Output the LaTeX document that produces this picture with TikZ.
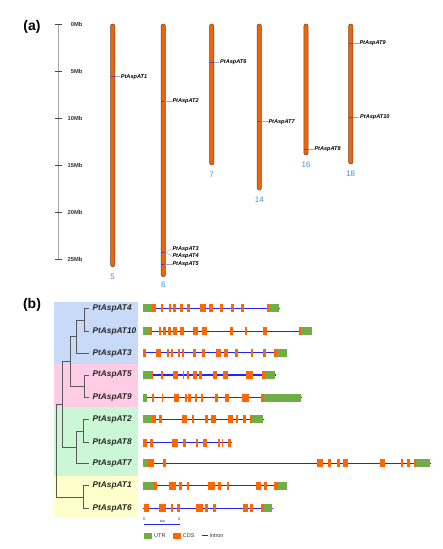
\documentclass[tikz,border=0pt]{standalone}
\usepackage{fontspec}
\setmainfont{Liberation Sans}
\definecolor{chrorange}{RGB}{238,100,8}
\definecolor{chredge}{RGB}{110,70,50}
\definecolor{cdsorange}{RGB}{255,102,0}
\definecolor{utrgreen}{RGB}{112,173,71}
\definecolor{intronblue}{RGB}{35,35,255}
\definecolor{numblue}{RGB}{70,140,230}
\definecolor{bgblue}{RGB}{201,218,248}
\definecolor{bgpink}{RGB}{255,204,229}
\definecolor{bggreen}{RGB}{204,247,214}
\definecolor{bgyellow}{RGB}{255,255,204}
\definecolor{tickpurple}{RGB}{110,60,160}
\newcommand\generow[4]{%
  \draw[intron] (#2,#1) -- (#3,#1);
  \foreach \t/\a/\b in {#4} { \fill[\t] (\a,#1-4) rectangle (\b,#1+4); }
}
\begin{document}
\begin{tikzpicture}[x=1bp,y=-1bp,
  chromo/.style={fill=chrorange,draw=chredge,line width=0.5bp,rounded corners=2bp},
  chrnum/.style={text=numblue,font=\fontsize{8}{9}\selectfont,inner sep=0pt},
  glab/.style={font=\fontsize{5.6}{6}\selectfont\bfseries\itshape,anchor=west,inner sep=0pt},
  lead/.style={draw=gray!70,line width=0.4bp},
  mtick/.style={draw=tickpurple,line width=0.6bp},
  mblab/.style={font=\fontsize{5.8}{6}\selectfont\bfseries,anchor=east,inner sep=0pt,text=black!80},
  panel/.style={font=\fontsize{14}{16}\selectfont\bfseries,inner sep=0pt},
  tlab/.style={font=\fontsize{8.3}{9}\selectfont\bfseries\itshape,anchor=west,inner sep=0pt,text=black!85},
  branch/.style={draw=black!65,line width=0.7bp},
  intron/.style={draw=intronblue,line width=1.3bp},
  u/.style={fill=utrgreen},
  c/.style={fill=cdsorange},
  leg/.style={font=\fontsize{5.5}{6}\selectfont,anchor=west,inner sep=0pt,text=black!80}]
\useasboundingbox (0,0) rectangle (443,549);
\fill[white] (0,0) rectangle (443,549);
% ---------- panel (a)
\node[panel] (pa) at (32,27) {(a)};
\draw[gray!70,line width=0.6bp] (58.3,24) -- (58.3,259.3);
\foreach \v/\yy in {0/24,5/71,10/118.3,15/165,20/212.3,25/259.3}{
  \draw[black!70,line width=0.6bp] (55,\yy) -- (61.7,\yy);
  \node[mblab] (mb\v) at (82.7,\yy) {\v Mb};
}
% chromosomes
\foreach \n/\x/\b/\ly in {5/112.7/266.7/276.7, 6/163.3/276.7/285, 7/211.7/165/174.3, 14/259.3/190/199.3, 16/306/155/165, 18/350.7/164/173.3}{
  \draw[chromo] (\x-2.1,24) rectangle (\x+2.1,\b);
  \node[chrnum] (cn\n) at (\x,\ly) {\n};
}
% gene markers
\foreach \g/\x/\ty/\lx/\ly in {1/112.7/76.7/120.7/76.7, 2/163.3/101/172.3/101, 6/211.7/62.3/220/62.3, 7/259.3/121.7/268.3/121.7, 8/306/149.5/314.3/149.5, 9/350.7/43.3/359.3/43.3, 10/350.7/117.3/360/117.3, 3/163.3/252.3/172.3/249, 4/163.3/252.3/172.3/256, 5/163.3/264.3/172.3/264.3}{
  \coordinate (m\g) at (\x+2.1,\ty);
  \draw[mtick] (\x-2.1,\ty) -- (m\g);
  \node[glab] (gl\g) at (\lx,\ly) {PtAspAT\g};
  \draw[lead] (m\g) -- ([xshift=-0.8bp]gl\g.west);
}
% ---------- panel (b)
\node[panel] (pb) at (32,305) {(b)};
\fill[bgblue] (54,301.7) rectangle (137.7,364);
\fill[bgpink] (54,364) rectangle (137.7,407.3);
\fill[bggreen] (54,407.3) rectangle (137.7,475.7);
\fill[bgyellow] (54,475.7) rectangle (137.7,517.3);
% tips
\foreach \g/\yy in {4/308.5,10/331.3,3/353,5/375,9/397.6,2/419.4,8/442.3,7/463.4,1/485.7,6/508.2}{
  \coordinate (t\g) at (89,\yy);
  \node[tlab] (tl\g) at (92.5,\yy) {PtAspAT\g};
}
\coordinate (n410) at (84,319.9);
\coordinate (n4103) at (76.7,336.4);
\coordinate (n59) at (84,386.3);
\coordinate (nbp) at (70,361.4);
\coordinate (n28) at (83.3,430.9);
\coordinate (n287) at (76.7,447.1);
\coordinate (nbpg) at (62.7,404.2);
\coordinate (n16) at (83.3,497);
\coordinate (root) at (56,450.6);
\foreach \p/\ch in {n410/t4,n410/t10,n4103/n410,n4103/t3,n59/t5,n59/t9,nbp/n4103,nbp/n59,n28/t2,n28/t8,n287/n28,n287/t7,nbpg/nbp,nbpg/n287,n16/t1,n16/t6,root/nbpg,root/n16}{
  \draw[branch] (\p) |- (\ch);
}
% gene structures
\begin{scope}[xshift=140bp,x=0.3333bp]
\generow{308.4}{10}{420}{u/10/35,c/35/48,c/63/68,c/87/92,c/100/107,c/120/130,c/140/150,c/180/197,c/207/220,c/240/250,c/272/282,c/302/312,c/380/388,u/388/417}
\generow{331.4}{10}{517}{u/10/30,c/30/37,c/57/62,c/70/77,c/85/92,c/100/110,c/120/132,c/160/175,c/187/200,c/270/280,c/315/322,c/370/380,c/477/483,u/483/515}
\generow{352.8}{10}{442}{c/10/17,c/47/62,c/82/87,c/92/100,c/113/120,c/127/133,c/160/168,c/185/195,c/228/242,c/252/263,c/285/293,c/332/340,c/370/378,c/402/410,u/410/440}
\generow{375}{10}{408}{u/10/35,c/35/40,c/62/68,c/98/115,c/128/132,c/140/147,c/160/170,c/178/185,c/218/230,c/250/263,c/318/340,c/365/375,u/375/405}
\generow{397.7}{10}{485}{u/10/20,c/35/42,c/65/70,c/102/118,c/135/140,c/145/152,c/165/172,c/182/190,c/225/235,c/255/268,c/305/328,c/362/372,u/372/482}
\generow{419.4}{10}{372}{u/10/35,c/35/48,c/58/65,c/125/142,c/155/163,c/195/203,c/213/228,c/263/278,c/287/295,c/308/317,c/330/335,u/335/370}
\generow{442.5}{10}{275}{c/10/20,c/30/38,c/95/115,c/128/137,c/167/173,c/188/200,c/235/240,c/245/250,c/265/272}
\generow{463.4}{10}{872}{u/10/25,c/25/42,c/70/77,c/532/550,c/563/572,c/590/600,c/610/625,c/720/735,c/782/790,c/802/810,c/823/828,u/828/870}
\generow{485.7}{10}{442}{u/10/40,c/40/52,c/88/107,c/118/127,c/140/148,c/203/225,c/233/243,c/260/267,c/348/363,c/372/380,c/402/413,u/413/440}
\generow{508.3}{10}{398}{c/12/27,c/58/78,c/92/100,c/112/120,c/168/188,c/195/205,c/220/227,c/310/325,c/330/340,c/362/372,u/372/395}
\end{scope}
% scale bar
\coordinate (sb1) at (145,524.3);
\coordinate (sb2) at (179.3,524.3);
\draw[intronblue,line width=0.5bp] (sb1) -- (sb2);
\fill[intronblue] ([xshift=-0.8bp,yshift=-0.8bp]sb1) rectangle ([xshift=0.8bp,yshift=0.8bp]sb1);
\fill[intronblue] ([xshift=-0.8bp,yshift=-0.8bp]sb2) rectangle ([xshift=0.8bp,yshift=0.8bp]sb2);
\node[font=\fontsize{3.5}{4}\selectfont,inner sep=0pt] (p5) at (144.6,519.3) {5'};
\node[font=\fontsize{3.5}{4}\selectfont,inner sep=0pt] (p3) at (179.3,519.3) {3'};
\node[font=\fontsize{3}{3.5}\selectfont,inner sep=0pt] (kb) at (162.3,521) {1kb};
% legend
\fill[utrgreen] (144,532.5) rectangle (152.3,538.8);
\node[leg] (lu) at (154,535.7) {UTR};
\fill[cdsorange] (173.3,532.5) rectangle (181,538.8);
\node[leg] (lc) at (182.7,535.7) {CDS};
\draw[intronblue,line width=1.2bp] (201.7,535.7) -- (208.3,535.7);
\node[leg] (li) at (209.3,535.7) {Intron};
\end{tikzpicture}
\end{document}
